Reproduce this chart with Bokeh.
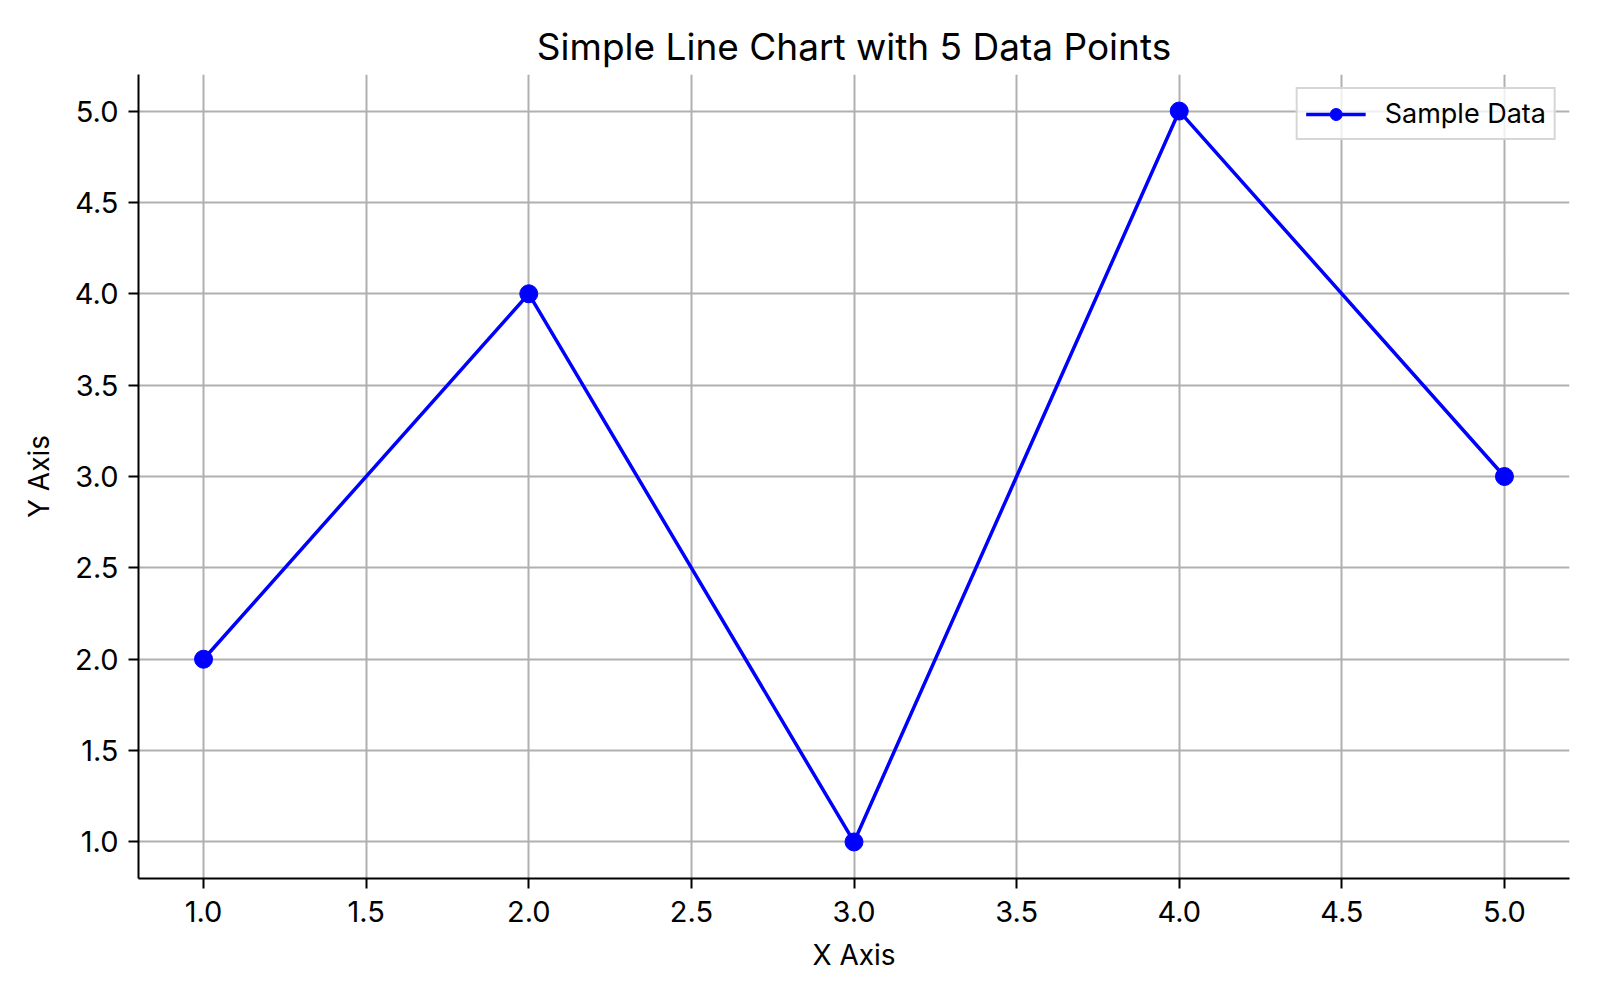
from bokeh.plotting import figure
from bokeh.models import FixedTicker, Range1d, NumeralTickFormatter, Legend, LegendItem, ColumnDataSource
from bokeh.embed import file_html
from bokeh.resources import INLINE

# Data
x_values = [1, 2, 3, 4, 5]
y_values = [2, 4, 1, 5, 3]
series_name = "Sample Data"
x_ticks = [1.0, 1.5, 2.0, 2.5, 3.0, 3.5, 4.0, 4.5, 5.0]
y_ticks = [1.0, 1.5, 2.0, 2.5, 3.0, 3.5, 4.0, 4.5, 5.0]
x_limits = (0.8, 5.2)
y_limits = (0.8, 5.2)

FONT = "Inter"

p = figure(
    frame_width=1431, frame_height=804,
    output_backend="svg", toolbar_location=None,
    x_range=Range1d(*x_limits), y_range=Range1d(*y_limits),
    min_border_left=138, min_border_right=31, min_border_top=74, min_border_bottom=122,
    title="Simple Line Chart with 5 Data Points",
)
p.background_fill_color = "white"
p.border_fill_color = "white"
p.outline_line_color = None

p.title.align = "center"
p.title.text_font = FONT
p.title.text_font_size = "37px"
p.title.text_font_style = "normal"
p.title.text_color = "black"
p.title.standoff = 11

for ax, lab in ((p.xaxis, "X Axis"), (p.yaxis, "Y Axis")):
    ax.axis_label = lab
    ax.axis_label_text_font = FONT
    ax.axis_label_text_font_size = "28px"
    ax.axis_label_text_font_style = "normal"
    ax.axis_label_text_color = "black"
    ax.major_label_text_font = FONT
    ax.major_label_text_font_size = "29px"
    ax.major_label_text_color = "black"
    ax.axis_line_color = "black"
    ax.axis_line_width = 2
    ax.major_tick_line_color = "black"
    ax.major_tick_line_width = 2
    ax.major_tick_out = 10
    ax.major_tick_in = 0
    ax.minor_tick_line_color = None
    ax.formatter = NumeralTickFormatter(format="0.0")

p.xaxis.ticker = FixedTicker(ticks=x_ticks)
p.yaxis.ticker = FixedTicker(ticks=y_ticks)
p.xaxis.major_label_standoff = 12
p.yaxis.major_label_standoff = 10
p.xaxis.axis_label_standoff = 13
p.yaxis.axis_label_standoff = 16

p.xgrid.ticker = FixedTicker(ticks=x_ticks)
p.ygrid.ticker = FixedTicker(ticks=y_ticks)
for g in (p.xgrid, p.ygrid):
    g.grid_line_color = "#b0b0b0"
    g.grid_line_width = 2

src = ColumnDataSource(dict(x=x_values, y=y_values))
line_r = p.line("x", "y", source=src, line_color="#0000ff", line_width=3.5)
pt_r = p.scatter("x", "y", source=src, size=18, fill_color="#0000ff", line_color="#0000ff")

legend = Legend(items=[LegendItem(label=series_name, renderers=[line_r, pt_r])],
                location="top_right")
legend.label_text_font = FONT
legend.label_text_font_size = "27px"
legend.label_text_color = "black"
legend.glyph_width = 60
legend.glyph_height = 30
legend.label_height = 28
legend.label_standoff = 19
legend.padding = 8
legend.margin = 13
legend.border_line_color = "#cccccc"
legend.border_line_width = 2
legend.border_line_alpha = 0.8
legend.background_fill_alpha = 0.8
p.add_layout(legend)

open("out.html", "w").write(file_html(p, INLINE))
